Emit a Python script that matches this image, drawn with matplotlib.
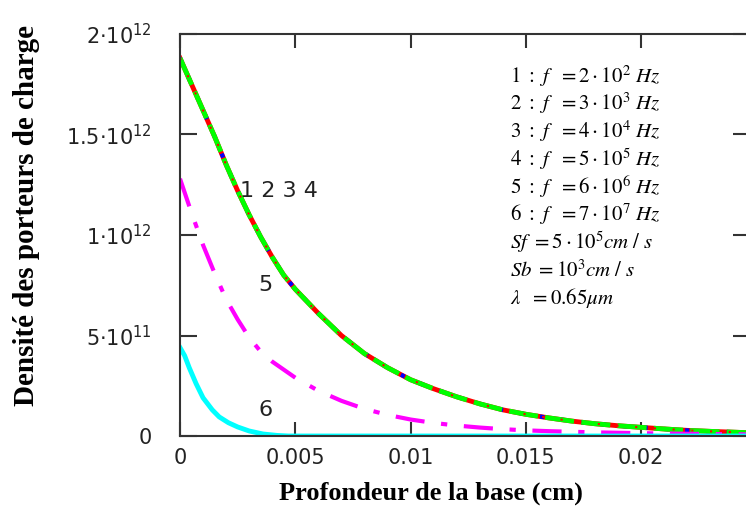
import matplotlib.pyplot as plt

# profondeur (cm) et densite (porteurs)
x_1234 = [0, 0.0005, 0.001, 0.0015, 0.002, 0.0025, 0.003, 0.0035, 0.004, 0.0045,
          0.005, 0.006, 0.007, 0.008, 0.009, 0.010, 0.011, 0.012, 0.013, 0.014,
          0.015, 0.016, 0.017, 0.018, 0.019, 0.020, 0.021, 0.022, 0.023, 0.024, 0.0247]
n_1234 = [1.88e12, 1.75e12, 1.62e12, 1.49e12, 1.35e12, 1.22e12, 1.10e12, 0.99e12,
          0.89e12, 0.80e12, 0.73e12, 0.61e12, 0.50e12, 0.41e12, 0.34e12, 0.28e12,
          0.235e12, 0.195e12, 0.16e12, 0.13e12, 0.108e12, 0.09e12, 0.074e12,
          0.061e12, 0.051e12, 0.043e12, 0.035e12, 0.028e12, 0.023e12, 0.019e12, 0.016e12]

x_5 = [0, 0.0005, 0.001, 0.0015, 0.002, 0.0025, 0.003, 0.0035, 0.004, 0.005, 0.006,
       0.007, 0.008, 0.009, 0.010, 0.011, 0.012, 0.013, 0.014, 0.015, 0.016, 0.018,
       0.020, 0.022, 0.0247]
n_5 = [1.28e12, 1.11e12, 0.95e12, 0.81e12, 0.68e12, 0.58e12, 0.49e12, 0.42e12,
       0.37e12, 0.29e12, 0.225e12, 0.175e12, 0.135e12, 0.105e12, 0.082e12, 0.065e12,
       0.052e12, 0.042e12, 0.034e12, 0.028e12, 0.024e12, 0.018e12, 0.014e12,
       0.011e12, 0.008e12]

x_6 = [0, 0.0002, 0.0004, 0.0007, 0.001, 0.0014, 0.0017, 0.0021, 0.0025, 0.003,
       0.0036, 0.0042, 0.0047, 0.0247]
n_6 = [0.44e12, 0.40e12, 0.34e12, 0.26e12, 0.19e12, 0.13e12, 0.095e12, 0.066e12,
       0.045e12, 0.025e12, 0.01e12, 0.003e12, 0, 0]

x_ticks = [0, 0.005, 0.01, 0.015, 0.02]
x_labels = ["0", "0.005", "0.01", "0.015", "0.02"]
y_ticks = [0, 0.5e12, 1e12, 1.5e12, 2e12]
y_labels = ["0", r"$5{\cdot}10^{11}$", r"$1{\cdot}10^{12}$", r"$1.5{\cdot}10^{12}$", r"$2{\cdot}10^{12}$"]

legende = [r"$1\ :\ f\ \ = 2\cdot10^{2}\ Hz$",
           r"$2\ :\ f\ \ = 3\cdot10^{3}\ Hz$",
           r"$3\ :\ f\ \ = 4\cdot10^{4}\ Hz$",
           r"$4\ :\ f\ \ = 5\cdot10^{5}\ Hz$",
           r"$5\ :\ f\ \ = 6\cdot10^{6}\ Hz$",
           r"$6\ :\ f\ \ = 7\cdot10^{7}\ Hz$",
           r"$Sf\ = 5\cdot10^{5}cm\ /\ s$",
           r"$Sb\ = 10^{3}cm\ /\ s$",
           r"$\lambda\ \ = 0.65\mu m$"]

fig = plt.figure(figsize=(7.46, 5.07), dpi=100)
ax = fig.add_axes([180 / 746, 71 / 507, 570 / 746, 402 / 507])

ax.plot(x_1234, n_1234, color="#ff0000", lw=3.5)
ax.plot(x_1234, n_1234, color="#0000ff", lw=3, dashes=(1, 4))
ax.plot(x_1234, n_1234, color="#00ff00", lw=3.5, dashes=(6, 1.5))
ax.plot(x_1234, n_1234, color="#ff0000", lw=1.5, dashes=(1, 8))
ax.plot(x_5, n_5, color="#ff00ff", lw=3, dashes=(7, 4, 1.5, 4))
ax.plot(x_6, n_6, color="#00ffff", lw=3.5)

ax.set_xlim(0, 570 / 23060)
ax.set_ylim(0, 2e12)

ax.set_xticks(x_ticks)
ax.set_xticklabels(x_labels)
ax.set_yticks(y_ticks)
ax.set_yticklabels(y_labels)
ax.tick_params(axis="x", direction="in", length=10, width=1.5, color="#333333",
               top=True, pad=9, labelsize=15, labelcolor="#222222")
ax.tick_params(axis="y", direction="in", length=12, width=1.5, color="#333333",
               right=True, pad=20, labelsize=15, labelcolor="#222222")
for lab in ax.get_yticklabels():
    lab.set_math_fontfamily("dejavusans")
for s in ax.spines.values():
    s.set_linewidth(1.5)
    s.set_color("#333333")

ax.text(0.0026, 1.22e12, "1 2 3 4", fontsize=16, color="#222222", va="center")
ax.text(0.0034, 0.75e12, "5", fontsize=16, color="#222222", va="center")
ax.text(0.0034, 0.13e12, "6", fontsize=16, color="#222222", va="center")

for i, t in enumerate(legende):
    fig.text(510 / 746, 1 - (76 + 27.7 * i) / 507, t, fontsize=15,
             math_fontfamily="stix", va="center", ha="left")

fig.text(431 / 746, 1 - 493 / 507, "Profondeur de la base (cm)", fontsize=19,
         family="Liberation Serif", weight="bold", ha="center", va="center")
fig.text(27 / 746, 1 - 215 / 507, "Densité des porteurs de charge", fontsize=21,
         family="Liberation Serif", weight="bold", ha="center", va="center",
         rotation=90)

plt.savefig("out.png", dpi=100)
